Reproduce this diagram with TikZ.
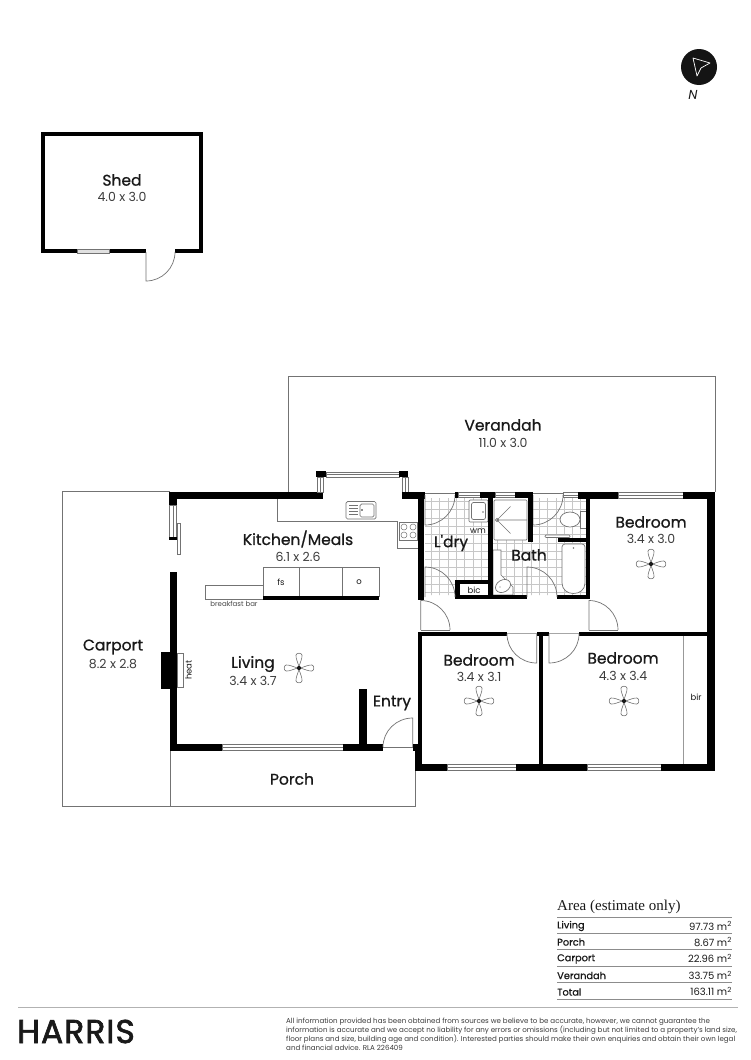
\documentclass[tikz,border=0pt]{standalone}
\usepackage{fontspec}
\setmainfont{Poppins}
\newfontfamily\medfont[FakeBold=0.8]{Poppins}
\newfontfamily\brandfont[FakeBold=2,LetterSpace=3]{Poppins}
\newfontfamily\areafont{Liberation Serif}
\usetikzlibrary{calc}
\definecolor{ink}{gray}{0.1}
\definecolor{line}{gray}{0.45}
\definecolor{tile}{gray}{0.78}
\tikzset{
  x=1pt,y=-1pt,
  thinline/.style={draw=line,line width=0.7pt},
  title/.style={font=\medfont\fontsize{15.5}{15.5}\selectfont,text=ink,inner sep=0pt},
  dimen/.style={font=\fontsize{12.5}{13}\selectfont,text=ink!85,inner sep=0pt},
  fixt/.style={font=\fontsize{8.5}{9}\selectfont,text=ink,inner sep=0pt},
  rowl/.style={font=\medfont\fontsize{9.8}{10}\selectfont,text=ink,inner sep=0pt,anchor=west},
  rowr/.style={font=\fontsize{10}{10}\selectfont,text=ink,inner sep=0pt,anchor=east},
  rule/.style={draw=black!45,line width=0.9pt},
}
\newcommand\wall[4]{\fill[black] (#1,#2) rectangle (#3,#4);}
\newcommand\win[4]{\draw[line,fill=white,line width=0.6pt] (#1,#2) rectangle (#3,#4);}
\newcommand\winh[4]{\win{#1}{#2}{#3}{#4}\draw[line,line width=0.5pt] (#1,{(#2+#4)/2}) -- (#3,{(#2+#4)/2});}
\newcommand\winv[4]{\win{#1}{#2}{#3}{#4}\draw[line,line width=0.5pt] ({(#1+#3)/2},#2) -- ({(#1+#3)/2},#4);}
\newcommand\door[6]{\draw[thinline] (#1,#2) -- (#3,#4) .. controls ({#3+.5523*(#5-#1)},{#4+.5523*(#6-#2)}) and ({#5+.5523*(#3-#1)},{#6+.5523*(#4-#2)}) .. (#5,#6);}
\newcommand\fan[2]{\begin{scope}[shift={(#1,#2)}]
  \foreach \a in {0,90,180,270}{\draw[thinline,line width=0.6pt,rotate=\a] (1.5,0) .. controls (6,-1.4) and (10,-3.4) .. (13,-3) .. controls (15.4,-2.4) and (15.4,2.4) .. (13,3) .. controls (10,3.4) and (6,1.4) .. (1.5,0);}
  \fill[ink] (0,0) circle (2.1);
\end{scope}}
\newcommand\room[6]{\node[title] (#1) at (#2,#3) {#4}; \node[dimen] (#1dim) at (#2,#5) {#6};}
\begin{document}
\begin{tikzpicture}
\useasboundingbox (0,0) rectangle (750,1060);
\fill[white] (0,0) rectangle (750,1060);

% north
\fill[black!92] (699,67) circle (18);
\draw[white,line width=0.7pt,line join=round] (693,58) -- (710,63) -- (701,68) -- (697,76) -- cycle;
\node[font=\itshape\fontsize{13}{13}\selectfont,text=ink,inner sep=0pt] (north) at (693,95) {N};

% shed
\draw[black,line width=4pt] (43,134) rectangle (201,251);
\fill[black!12] (77,249) rectangle (109,253);
\draw[line,line width=0.5pt] (77,249) rectangle (109,253);
\fill[white] (146,248.5) rectangle (175,253.5);
\door{146}{252}{146}{281}{175}{252}
\room{shed}{122}{180}{Shed}{197}{4.0 x 3.0}

% outdoor areas
\draw[thinline] (288,492) -- (288,376) -- (715,376) -- (715,492);
\draw[thinline] (170,491) -- (62,491) -- (62,806) -- (415.5,806) -- (415.5,771);
\draw[thinline] (170,751) -- (170,806);

% tiles
\begin{scope}
  \clip (425,498) rectangle (488,595) (493,540) rectangle (586,595) (533,498) rectangle (586,540);
  \foreach \i in {0,...,21}{\draw[tile,line width=0.45pt] ({423+8.3*\i},490) -- ({423+8.3*\i},600);}
  \foreach \i in {0,...,13}{\draw[tile,line width=0.45pt] (420,{493+8.3*\i}) -- (600,{493+8.3*\i});}
\end{scope}
\fill[white] (460,584) rectangle (488,595);

% kitchen fittings
\draw[thinline] (277,499) -- (277,521) -- (397,521) -- (397,548) -- (418,548);
\draw[thinline,rounded corners=1.5pt] (346,501.5) rectangle (376,519);
\draw[thinline,rounded corners=1.5pt] (360,504) rectangle (374,517);
\foreach \yy in {505,508,511,514}{\draw[thinline,line width=0.5pt] (349,\yy) -- (358,\yy);}
\fill[ink] (362,510) circle (0.8);
\draw[thinline] (399,522) rectangle (417,540);
\foreach \xx/\yy in {404/527,413/527,404/535,413/535}{\draw[thinline,line width=0.5pt] (\xx,\yy) circle (3);}
\draw[thinline] (205,585) rectangle (263,599);
\draw[thinline] (263,567) rectangle (379,596);
\draw[thinline] (299.5,567) -- (299.5,596) (342,567) -- (342,596);
\wall{263}{596}{379}{599.5}

% kitchen/living walls
\wall{169}{492}{323}{499}
\wall{169}{492}{177}{505}
\winv{169.5}{505}{176.5}{537}
\wall{169}{537}{177}{539.5}
\win{177.5}{523}{180}{554}
\wall{170}{572}{177}{751}
\wall{161}{652}{170}{689}
\draw[thinline,fill=white] (177,653) rectangle (183,687);
\winh{326}{472}{399}{477}
\wall{316}{471}{326}{477}
\wall{399}{471}{408}{477}
\winv{317}{477}{323}{492}
\winv{402}{477}{408}{492}
\wall{402}{492}{425}{499}
\wall{418}{492}{424}{600}
\wall{170}{744}{222}{751}
\winh{222}{744.5}{343}{750.5}
\wall{343}{744}{383}{751}
\wall{359}{689}{367}{744}
\draw[thinline] (383,747) -- (413,747);
\door{412.7}{747}{412.7}{718}{383}{747}
\wall{413}{744}{422}{751}

% wet area fittings
\draw[thinline,fill=white,rounded corners=1pt] (469,500) rectangle (488,522);
\draw[thinline,fill=white,rounded corners=2pt] (471.5,502.5) rectangle (485.5,519.5);
\fill[line] (483,512) circle (0.8);
\draw[thinline,fill=white,rounded corners=1pt] (494,500) rectangle (527,540);
\draw[thinline,line width=0.6pt] (497,520) circle (1.6);
\draw[thinline,line width=0.6pt] (510.5,506.5) -- (497,520) -- (527,520) (497,520) -- (510.5,533.5);
\draw[thinline,fill=white] (493,550) -- (501,550) -- (501,575) -- (513,587) -- (513,595) -- (493,595) -- cycle;
\draw[thinline,fill=white,rotate around={30:(503,586)}] (503,586) ellipse (8 and 6);
\fill[line] (500,587) circle (0.7);
\draw[thinline,fill=white] (580,511) rectangle (586,528);
\draw[thinline,fill=white] (570,519.5) ellipse (10 and 7.5);
\draw[thinline,fill=white,rounded corners=1pt] (545,535) rectangle (570,537.5);
\draw[thinline,fill=white,rounded corners=3pt] (562,544) -- (585,544) -- (585,580) .. controls (585,597) and (562,597) .. (562,580) -- cycle;
\fill[line] (573.5,548) circle (0.8);

% top of wet areas
\draw[thinline] (425,493.5) -- (455,493.5) (533,493.5) -- (563,493.5);
\door{425}{495}{425}{525}{455}{495}
\door{533}{495}{533}{525}{563}{495}
\wall{455}{492}{458}{498}
\winh{458}{492.5}{480}{497.5}
\wall{480}{492}{495}{498}
\winh{495}{492.5}{515}{497.5}
\wall{515}{492}{533}{498}
\winh{563}{492.5}{578}{497.5}
\wall{578}{492}{618}{499}
\winh{618}{492.5}{683}{498.5}
\wall{683}{492}{715}{499}
\wall{707}{492}{715}{771}
\wall{488}{498}{493}{599}
\wall{528}{498}{533}{542}
\wall{557.5}{538}{590}{542}
\wall{586}{498}{590}{599}
\wall{455}{595}{527}{599}
\wall{557}{595}{590}{599}
\wall{455}{580}{460}{599}
\wall{455}{580}{490}{584}
\door{425}{597}{425}{567}{455}{597}
\door{527}{597}{527}{567}{557}{597}

% hall doors
\door{420.7}{630}{420.7}{600.5}{450}{630}
\door{589}{630}{589}{600.5}{618}{630}
\draw[line,line width=1.2pt] (421,630.5) -- (450,630.5) (589,630.5) -- (618,630.5);

% bedroom walls
\wall{418}{632}{507}{636}
\wall{537}{632}{549}{636}
\wall{579}{632}{715}{636}
\wall{539}{632}{543}{771}
\wall{418}{632}{422}{771}
\wall{415}{745}{422}{771}
\door{536.7}{634}{536.7}{663}{507}{634}
\door{549}{634}{549}{663}{579}{634}
\draw[black!35,line width=0.6pt] (507,633.5) -- (537,633.5) (549,633.5) -- (579,633.5);
\wall{415}{764}{447}{771}
\winh{447}{764.5}{516}{770.5}
\wall{516}{764}{587}{771}
\winh{587}{764.5}{661}{770.5}
\wall{661}{764}{715}{771}
\draw[black!40,line width=1pt] (683,636) -- (683,764);

% fans
\fan{651}{564}
\fan{299}{668}
\fan{479}{701}
\fan{624}{701}

% labels
\room{veranda}{503}{425}{Verandah}{443}{11.0 x 3.0}
\room{kitchen}{298}{539}{Kitchen/Meals}{557}{6.1 x 2.6}
\room{living}{253}{664}{Living}{681}{3.4 x 3.7}
\room{carport}{113}{647}{Carport}{664}{8.2 x 2.8}
\room{bed1}{651}{522}{Bedroom}{539}{3.4 x 3.0}
\room{bed2}{479}{660}{Bedroom}{677}{3.4 x 3.1}
\room{bed3}{623}{658}{Bedroom}{676}{4.3 x 3.4}
\node[title] (entry) at (392,703) {Entry};
\node[title] (porch) at (292,779) {Porch};
\node[title] (laundry) at (451,543) {L'dry};
\node[title] (bath) at (529,555) {Bath};
\node[fixt] (wm) at (478,531) {wm};
\node[fixt] (bic) at (474,590) {bic};
\node[fixt] (bir) at (696,697) {bir};
\node[fixt] (fs) at (281,582) {fs};
\node[fixt] (oven) at (359,582) {o};
\node[fixt,rotate=90] (heat) at (188.5,670) {heat};
\node[font=\fontsize{7}{7}\selectfont,text=ink!80,inner sep=0pt] (bar) at (234,604) {breakfast bar};

% area table
\node[font=\areafont\fontsize{15}{15}\selectfont,text=ink,inner sep=0pt,anchor=west] (areatitle) at (557,907) {Area (estimate only)};
\foreach \yy in {917,933,949,966,982,999}{\draw[rule] (557,\yy) -- (732,\yy);}
\node[rowl] (r1) at (557,926) {Living};
\node[rowl] (r2) at (557,942) {Porch};
\node[rowl] (r3) at (557,959) {Carport};
\node[rowl] (r4) at (557,975.5) {Verandah};
\node[rowl] (r5) at (557,992) {Total};
\node[rowr] (v1) at (732,926) {97.73 m\textsuperscript{2}};
\node[rowr] (v2) at (732,942) {8.67 m\textsuperscript{2}};
\node[rowr] (v3) at (732,958.5) {22.96 m\textsuperscript{2}};
\node[rowr] (v4) at (732,975.5) {33.75 m\textsuperscript{2}};
\node[rowr] (v5) at (732,991.5) {163.11 m\textsuperscript{2}};

% footer
\draw[black!30,line width=1pt] (18,1007) -- (738,1007);
\node[font=\brandfont\fontsize{33}{33}\selectfont,text=ink,inner sep=0pt,anchor=west] (brand) at (17,1031.5) {HARRIS};
\node[font=\fontsize{7.1}{9}\selectfont,text=ink!85,inner sep=0pt,anchor=north west,align=left] (legal) at (286,1017.5) {All information provided has been obtained from sources we believe to be accurate, however, we cannot guarantee the\\information is accurate and we accept no liability for any errors or omissions (including but not limited to a property's land size,\\floor plans and size, building age and condition). Interested parties should make their own enquiries and obtain their own legal\\and financial advice. RLA 226409};
\end{tikzpicture}
\end{document}
